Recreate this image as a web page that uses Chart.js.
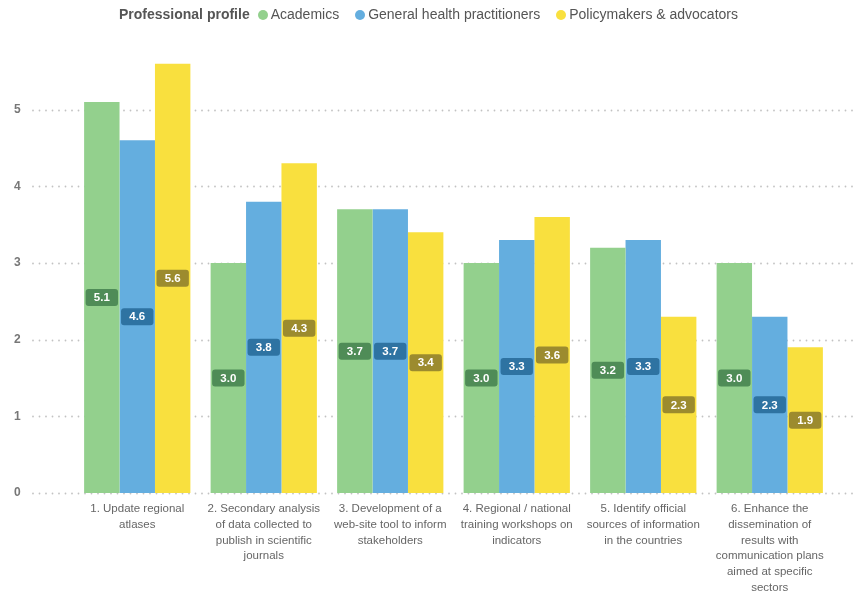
<!DOCTYPE html>
<html>
<head>
<meta charset="utf-8">
<script src="https://cdn.jsdelivr.net/npm/chart.js@4/dist/chart.umd.min.js"></script>
<style>
    html, body { margin: 0; padding: 0; background: #fff; }
    #wrap { position: relative; width: 863px; height: 591px; }
    #legend {
        position: absolute; left: 0; right: 0; top: 6px;
        text-align: center; font-family: "Liberation Sans", Arial, sans-serif;
        font-size: 14px; color: #555; white-space: nowrap;
        padding-left: 10px;
    }
    #legend b { color: #555; margin-right: 8px; }
    #legend .item { margin-right: 16px; }
    #legend .dot {
        display: inline-block; width: 10px; height: 10px; border-radius: 50%;
        margin-right: 3px; vertical-align: -0.5px;
    }
</style>
</head>
<body>
<div id="wrap">
    <canvas id="chart" width="863" height="591"></canvas>
    <div id="legend"></div>
</div>
<script>
// Dados do gráfico
const categories = [
    ['1. Update regional', 'atlases'],
    ['2. Secondary analysis', 'of data collected to', 'publish in scientific', 'journals'],
    ['3. Development of a', 'web-site tool to inform', 'stakeholders'],
    ['4. Regional / national', 'training workshops on', 'indicators'],
    ['5. Identify official', 'sources of information', 'in the countries'],
    ['6. Enhance the', 'dissemination of', 'results with', 'communication plans', 'aimed at specific', 'sectors']
];
const seriesNames = ['Academics', 'General health practitioners', 'Policymakers & advocators'];
const academics = [5.1, 3.0, 3.7, 3.0, 3.2, 3.0];
const generalHealth = [4.6, 3.8, 3.7, 3.3, 3.3, 2.3];
const policymakers = [5.6, 4.3, 3.4, 3.6, 2.3, 1.9];
const yTicks = [0, 1, 2, 3, 4, 5];
const legendTitle = 'Professional profile';

const barColors = ['#93d08d', '#64aedf', '#f9e03e'];
const labelColors = ['#4f8c57', '#2e73a2', '#9c8b2e'];

// Legenda em HTML
const legendEl = document.getElementById('legend');
legendEl.innerHTML = `<b>${legendTitle}</b>` + seriesNames.map((n, i) =>
    `<span class="item"><span class="dot" style="background:${barColors[i]}"></span>${n.replace('&', '&amp;')}</span>`
).join('');

// Linhas pontilhadas de grade
const dottedGrid = {
    id: 'dottedGrid',
    beforeDatasetsDraw(chart) {
        const ctx = chart.ctx;
        const y = chart.scales.y;
        ctx.save();
        ctx.strokeStyle = '#c2c2c2';
        ctx.lineWidth = 1.8;
        ctx.lineCap = 'round';
        ctx.setLineDash([0, 6.5]);
        yTicks.forEach(v => {
            const py = Math.round(y.getPixelForValue(v)) + 0.5;
            ctx.beginPath();
            ctx.moveTo(33, py);
            ctx.lineTo(858, py);
            ctx.stroke();
        });
        ctx.restore();
    }
};

// Rótulos de valor no meio das barras
const valueBoxes = {
    id: 'valueBoxes',
    afterDatasetsDraw(chart) {
        const ctx = chart.ctx;
        ctx.save();
        ctx.font = 'bold 11.5px "Liberation Sans", Arial, sans-serif';
        ctx.textAlign = 'center';
        ctx.textBaseline = 'middle';
        chart.data.datasets.forEach((ds, di) => {
            chart.getDatasetMeta(di).data.forEach((el, i) => {
                const cy = (el.y + el.base) / 2;
                const w = el.width - 3, h = 17;
                ctx.fillStyle = labelColors[di];
                ctx.beginPath();
                ctx.roundRect(el.x - w / 2, cy - h / 2, w, h, 3);
                ctx.fill();
                ctx.fillStyle = '#fff';
                ctx.fillText(ds.data[i].toFixed(1), el.x, cy + 0.5);
            });
        });
        ctx.restore();
    }
};

new Chart(document.getElementById('chart'), {
    type: 'bar',
    data: {
        labels: categories,
        datasets: [academics, generalHealth, policymakers].map((d, i) => ({
            label: seriesNames[i],
            data: d,
            backgroundColor: barColors[i],
            borderWidth: 0,
            barPercentage: 1,
            categoryPercentage: 0.84
        }))
    },
    options: {
        responsive: false,
        animation: false,
        events: [],
        layout: { padding: { top: 33, right: 30, left: 14, bottom: 0 } },
        plugins: {
            legend: { display: false },
            tooltip: { enabled: false }
        },
        scales: {
            x: {
                grid: { display: false },
                border: { display: false },
                ticks: {
                    autoSkip: false,
                    maxRotation: 0,
                    padding: 0,
                    color: '#666',
                    font: { family: '"Liberation Sans", Arial, sans-serif', size: 11.5, lineHeight: 1.37 }
                },
                afterFit: s => { s.height = 98; }
            },
            y: {
                min: 0,
                max: 6,
                grid: { display: false },
                border: { display: false },
                afterBuildTicks: s => { s.ticks = yTicks.map(v => ({ value: v })); },
                ticks: {
                    crossAlign: 'far',
                    color: '#777',
                    font: { family: '"Liberation Sans", Arial, sans-serif', size: 12, weight: 'bold' }
                },
                afterFit: s => { s.width = 60; }
            }
        }
    },
    plugins: [dottedGrid, valueBoxes]
});
</script>
</body>
</html>
